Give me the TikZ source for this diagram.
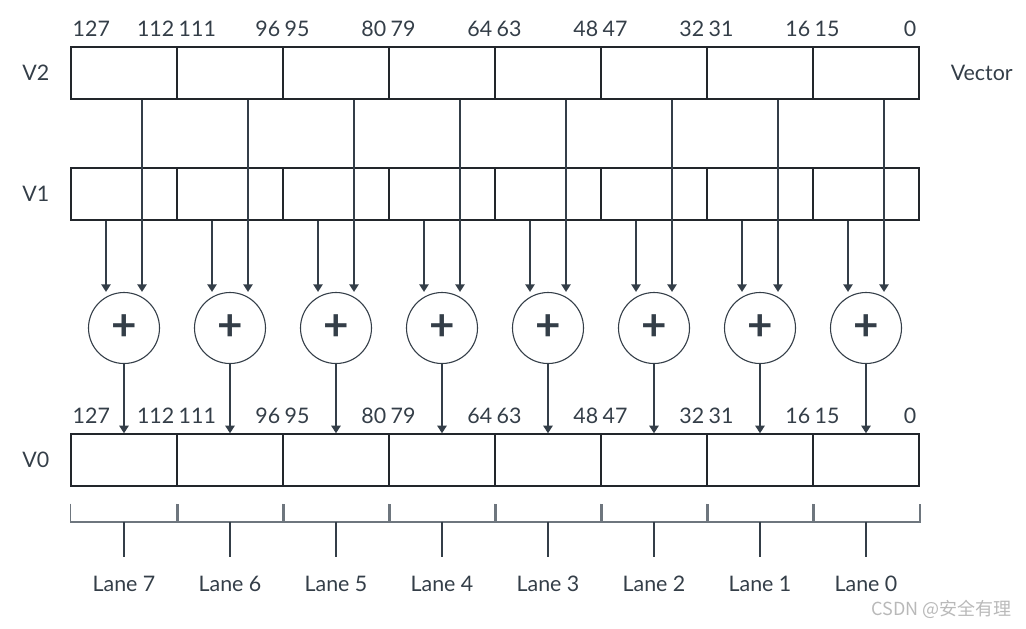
\documentclass[tikz,border=0pt]{standalone}
\usepackage{fontspec}
\setmainfont{Lato}
\newfontfamily\cjk{Noto Sans CJK SC}
\usetikzlibrary{arrows.meta,positioning,calc}
\definecolor{regink}{RGB}{34,38,43}
\definecolor{slate}{RGB}{52,62,72}
\definecolor{brkgray}{RGB}{110,118,126}

\begin{document}
\begin{tikzpicture}[x=0.5pt, y=-0.5pt,
  every node/.style={font=\fontsize{10.7}{12}\selectfont, text=slate},
  cell/.style={draw=regink, line width=0.7pt, minimum width=53pt,
               minimum height=26pt, inner sep=0pt},
  adder/.style={circle, draw=slate, line width=0.55pt, minimum size=35.5pt,
                inner sep=0pt, font=\fontsize{22}{22}\selectfont\bfseries},
  bit/.style={inner sep=0pt},
  arr/.style={-{Triangle[length=3.8pt,width=4.6pt]}, slate, line width=0.9pt},
  brk/.style={brkgray, line width=0.8pt},
  stem/.style={slate, line width=0.9pt},
]
\useasboundingbox (0,0) rectangle (1026,628);

% Registers (lane 0 on the right)
\foreach \l in {0,...,7} {
  \node[cell] (v2c\l) at ({866-106*\l},73)  {};
  \node[cell] (v1c\l) at ({866-106*\l},194) {};
  \node[cell] (v0c\l) at ({866-106*\l},460) {};
}

% Register names
\node[left=7pt of v2c7] (v2lab) {V2};
\node[left=7pt of v1c7] (v1lab) {V1};
\node[left=7pt of v0c7] (v0lab) {V0};
\node[right=12pt of v2c0] (veclab) {Vector};

% Bit numbers
\foreach \l in {0,...,7} {
  \pgfmathtruncatemacro\hi{16*\l+15}
  \pgfmathtruncatemacro\lo{16*\l}
  \foreach \r in {v2,v0} {
    \node[bit, anchor=base west] (\r-hi\l) at ([xshift=1pt,yshift=5pt]\r c\l.north west) {\hi};
    \node[bit, anchor=base east] (\r-lo\l) at ([xshift=-1.5pt,yshift=5pt]\r c\l.north east) {\lo};
  }
}

% Adders
\foreach \l in {0,...,7} {
  \node[adder] (add\l) at ({866-106*\l},328) {+};
  \draw[arr] ([xshift=-9pt]v1c\l.south) -- ([xshift=-9pt]v1c\l.south |- add\l.north);
  \draw[arr] ([xshift=9pt]v2c\l.south) -- ([xshift=9pt]v2c\l.south |- add\l.north);
  \draw[arr] (add\l) -- (v0c\l);
}

% Lanes
\foreach \l in {0,...,7} {
  \draw[brk] ([yshift=-8.5pt]v0c\l.south west) -- ([yshift=-17.5pt]v0c\l.south west)
    -- ([yshift=-17.5pt]v0c\l.south east) -- ([yshift=-8.5pt]v0c\l.south east);
  \draw[stem] ([yshift=-17.5pt]v0c\l.south) -- ++(0,-17.5pt);
  \node (lane\l) at ({866-106*\l},584) {Lane \l};
}

\node[anchor=east, inner sep=0pt, text=gray!55, font=\cjk\fontsize{9}{11}\selectfont]
  (mark) at (1012,609) {CSDN @安全有理};

\end{tikzpicture}
\end{document}
